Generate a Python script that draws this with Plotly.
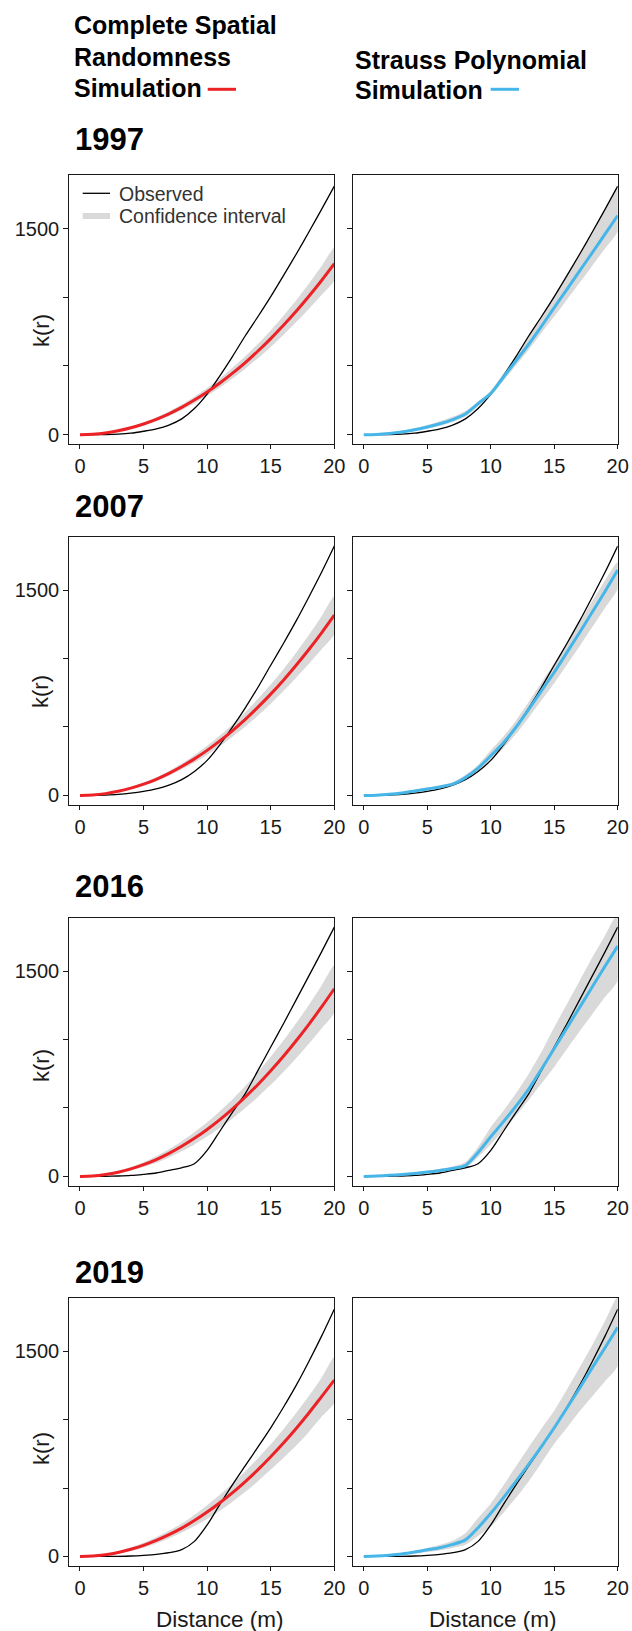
import plotly.graph_objects as go

# distance r (m)
r = list(range(21))

years = ["1997", "2007", "2016", "2019"]

# observed K(r) per survey year
obs_1997 = [0, 0, 1, 4, 11, 25, 42, 70, 115, 190, 295, 428, 570, 720, 860, 1005, 1158, 1313, 1475, 1640, 1809]
obs_2007 = [0, 0, 3, 8, 17, 30, 48, 75, 115, 175, 256, 370, 500, 640, 790, 951, 1110, 1275, 1450, 1630, 1822]
obs_2016 = [0, 0, 1, 3, 7, 15, 25, 44, 63, 93, 190, 330, 470, 605, 775, 945, 1115, 1290, 1465, 1640, 1821]
obs_2019 = [0, 0, 0, 1, 3, 8, 15, 27, 50, 110, 230, 380, 525, 663, 800, 940, 1090, 1250, 1425, 1610, 1807]

# complete spatial randomness simulation: mean and envelope
csr_1997 = [0, 3, 12, 28, 50, 78, 112, 152, 199, 252, 311, 376, 448, 525, 609, 699, 796, 898, 1007, 1122, 1244]
csr_lo_1997 = [0, 2, 9, 23, 43, 68, 99, 136, 179, 228, 283, 343, 409, 480, 557, 639, 726, 818, 915, 1017, 1124]
csr_hi_1997 = [0, 4, 15, 33, 57, 88, 125, 168, 219, 276, 339, 409, 487, 570, 661, 759, 866, 978, 1099, 1227, 1361]

csr_2007 = [0, 3, 13, 30, 53, 82, 118, 161, 211, 267, 329, 398, 474, 556, 645, 740, 842, 951, 1066, 1188, 1317]
csr_lo_2007 = [0, 2, 10, 25, 45, 71, 104, 143, 189, 240, 296, 359, 428, 503, 584, 670, 762, 859, 961, 1068, 1177]
csr_hi_2007 = [0, 4, 16, 35, 61, 93, 132, 179, 233, 294, 362, 437, 520, 609, 706, 810, 922, 1043, 1171, 1308, 1457]

csr_2016 = [0, 3, 14, 31, 55, 86, 123, 168, 220, 278, 343, 415, 494, 580, 672, 772, 878, 991, 1111, 1238, 1371]
csr_lo_2016 = [0, 1, 9, 22, 42, 68, 99, 138, 183, 234, 291, 354, 424, 500, 581, 669, 763, 863, 969, 1081, 1199]
csr_hi_2016 = [0, 5, 19, 40, 68, 104, 147, 198, 257, 322, 395, 476, 564, 660, 763, 875, 993, 1119, 1253, 1395, 1543]

csr_2019 = [0, 3, 13, 29, 52, 81, 117, 159, 207, 262, 324, 392, 466, 547, 634, 728, 828, 935, 1048, 1168, 1289]
csr_lo_2019 = [0, 1, 8, 20, 39, 63, 94, 131, 174, 222, 274, 334, 400, 472, 550, 635, 720, 810, 910, 1020, 1125]
csr_hi_2019 = [0, 5, 18, 38, 65, 99, 140, 187, 240, 303, 374, 450, 532, 622, 718, 820, 930, 1048, 1172, 1305, 1457]

# Strauss polynomial simulation: mean and envelope
str_1997 = [0, 2, 9, 20, 36, 56, 80, 110, 150, 226, 300, 420, 540, 660, 790, 925, 1058, 1192, 1325, 1460, 1595]
str_lo_1997 = [0, 1, 5, 13, 27, 44, 65, 92, 130, 205, 280, 392, 505, 620, 742, 860, 982, 1105, 1230, 1355, 1480]
str_hi_1997 = [0, 4, 14, 28, 46, 70, 98, 130, 172, 240, 322, 445, 580, 725, 868, 1010, 1162, 1317, 1477, 1640, 1805]

str_2007 = [0, 2, 8, 18, 32, 47, 62, 82, 130, 200, 290, 385, 500, 630, 765, 900, 1045, 1190, 1340, 1490, 1646]
str_lo_2007 = [0, 1, 5, 13, 25, 38, 52, 70, 115, 178, 255, 345, 450, 570, 695, 820, 955, 1090, 1230, 1370, 1510]
str_hi_2007 = [0, 4, 12, 24, 40, 57, 74, 96, 150, 222, 330, 430, 550, 685, 825, 965, 1115, 1265, 1420, 1570, 1705]

str_2016 = [0, 3, 8, 14, 22, 32, 44, 58, 80, 175, 290, 400, 515, 640, 785, 935, 1085, 1235, 1385, 1535, 1682]
str_lo_2016 = [0, 1, 4, 9, 15, 23, 33, 45, 60, 140, 235, 335, 445, 560, 680, 800, 930, 1060, 1185, 1310, 1432]
str_hi_2016 = [0, 5, 12, 20, 30, 42, 56, 72, 105, 215, 360, 480, 610, 750, 910, 1090, 1260, 1430, 1600, 1760, 1920]

str_2019 = [0, 3, 9, 18, 32, 48, 64, 88, 121, 210, 315, 430, 550, 675, 805, 940, 1085, 1230, 1380, 1525, 1674]
str_lo_2019 = [0, 1, 5, 11, 20, 32, 45, 62, 85, 150, 218, 320, 430, 550, 685, 823, 940, 1060, 1170, 1280, 1391]
str_hi_2019 = [0, 5, 14, 26, 42, 62, 85, 115, 170, 280, 387, 520, 660, 800, 935, 1065, 1220, 1380, 1545, 1720, 1900]

observed = [obs_1997, obs_2007, obs_2016, obs_2019]
csr = [(csr_1997, csr_lo_1997, csr_hi_1997), (csr_2007, csr_lo_2007, csr_hi_2007),
       (csr_2016, csr_lo_2016, csr_hi_2016), (csr_2019, csr_lo_2019, csr_hi_2019)]
strauss = [(str_1997, str_lo_1997, str_hi_1997), (str_2007, str_lo_2007, str_hi_2007),
           (str_2016, str_lo_2016, str_hi_2016), (str_2019, str_lo_2019, str_hi_2019)]

x_ticks = [0, 5, 10, 15, 20]
y_ticks = [0, 500, 1000, 1500]
y_ticktext = ["0", "", "", "1500"]

RED = "#ec2227"
BLUE = "#45b6e7"
BAND = "#d9d9d9"
INK = "#1a1a1a"
FONT = "Liberation Sans, Arial, sans-serif"

W, H = 632, 1631
rows_px = [(175, 444.3), (536.7, 805), (917.7, 1186), (1297.8, 1566)]
cols_px = [(69.3, 334.3), (353.2, 617.7)]
title_y = [140, 506, 886.7, 1272.5]
ylab_y = [331, 692, 1066, 1449]


def px(x):
    return x / W


def py(y):
    return 1 - y / H


fig = go.Figure()
layout = {}

for i, year in enumerate(years):
    for j, (mean, lo, hi) in enumerate([csr[i], strauss[i]]):
        n = i * 2 + j + 1
        xa = "x" if n == 1 else f"x{n}"
        ya = "y" if n == 1 else f"y{n}"
        color = RED if j == 0 else BLUE

        fig.add_trace(go.Scatter(
            x=r + r[::-1], y=hi + lo[::-1], xaxis=xa, yaxis=ya,
            fill="toself", fillcolor=BAND, line=dict(width=0, shape="spline", smoothing=0.6),
            mode="lines", hoverinfo="skip", showlegend=False))
        fig.add_trace(go.Scatter(
            x=r, y=observed[i], xaxis=xa, yaxis=ya, mode="lines",
            line=dict(color="black", width=1.3, shape="spline", smoothing=0.8),
            showlegend=False))
        fig.add_trace(go.Scatter(
            x=r, y=mean, xaxis=xa, yaxis=ya, mode="lines",
            line=dict(color=color, width=3, shape="spline", smoothing=0.8),
            showlegend=False))

        top, bottom = rows_px[i]
        left, right = cols_px[j]
        sfx = "" if n == 1 else str(n)
        layout["xaxis" + sfx] = dict(
            domain=[px(left), px(right)], anchor=ya, range=[-0.84, 20],
            tickvals=x_ticks, ticks="outside", ticklen=4, tickwidth=1.3, tickcolor=INK,
            showline=True, mirror=True, linecolor=INK, linewidth=1.3,
            showgrid=False, zeroline=False, automargin=False,
            tickfont=dict(size=20, color=INK, family=FONT))
        layout["yaxis" + sfx] = dict(
            domain=[py(bottom), py(top)], anchor=xa, range=[-70, 1890],
            tickvals=y_ticks, ticktext=y_ticktext, showticklabels=(j == 0),
            ticks="outside", ticklen=5, tickwidth=1.3, tickcolor=INK,
            showline=True, mirror=True, linecolor=INK, linewidth=1.3,
            showgrid=False, zeroline=False, automargin=False,
            tickfont=dict(size=20, color=INK, family=FONT))

annotations = []
shapes = []

# column headers
left_header = ["Complete Spatial", "Randomness", "Simulation"]
for k, (txt, yc) in enumerate(zip(left_header, [25, 56.5, 88.5])):
    annotations.append(dict(text=f"<b>{txt}</b>", x=px(71.8), y=py(yc), xref="paper", yref="paper",
                            xanchor="left", yanchor="middle", showarrow=False,
                            font=dict(size=25, color="black", family=FONT)))
right_header = ["Strauss Polynomial", "Simulation"]
for txt, yc in zip(right_header, [60, 90]):
    annotations.append(dict(text=f"<b>{txt}</b>", x=px(353), y=py(yc), xref="paper", yref="paper",
                            xanchor="left", yanchor="middle", showarrow=False,
                            font=dict(size=25, color="black", family=FONT)))
shapes.append(dict(type="line", xref="paper", yref="paper", x0=px(207.7), x1=px(236),
                   y0=py(89.3), y1=py(89.3), line=dict(color=RED, width=3)))
shapes.append(dict(type="line", xref="paper", yref="paper", x0=px(490.7), x1=px(519),
                   y0=py(89.3), y1=py(89.3), line=dict(color=BLUE, width=3)))

# year titles and y-axis titles
for i, year in enumerate(years):
    annotations.append(dict(text=f"<b>{year}</b>", x=px(72.6), y=py(title_y[i]), xref="paper", yref="paper",
                            xanchor="left", yanchor="middle", showarrow=False,
                            font=dict(size=31, color="black", family=FONT)))
    annotations.append(dict(text="k(r)", x=px(41), y=py(ylab_y[i]), xref="paper", yref="paper",
                            xanchor="center", yanchor="middle", textangle=-90, showarrow=False,
                            font=dict(size=22, color=INK, family=FONT)))

# x-axis titles under the bottom row
for xc in [220, 492.5]:
    annotations.append(dict(text="Distance (m)", x=px(xc), y=py(1619), xref="paper", yref="paper",
                            xanchor="center", yanchor="middle", showarrow=False,
                            font=dict(size=22.5, color=INK, family=FONT)))

# key inside the first panel
shapes.append(dict(type="line", xref="paper", yref="paper", x0=px(82.7), x1=px(110),
                   y0=py(193.3), y1=py(193.3), line=dict(color="black", width=1.3)))
shapes.append(dict(type="line", xref="paper", yref="paper", x0=px(82.7), x1=px(110),
                   y0=py(216), y1=py(216), line=dict(color=BAND, width=6)))
for txt, yc in [("Observed", 194), ("Confidence interval", 216)]:
    annotations.append(dict(text=txt, x=px(117.3), y=py(yc), xref="paper", yref="paper",
                            xanchor="left", yanchor="middle", showarrow=False,
                            font=dict(size=19.5, color="#333333", family=FONT)))

fig.update_layout(
    width=W, height=H, margin=dict(l=0, r=0, t=0, b=0, autoexpand=False),
    paper_bgcolor="white", plot_bgcolor="white",
    showlegend=False, annotations=annotations, shapes=shapes,
    **layout)

fig.write_html("out.html")
